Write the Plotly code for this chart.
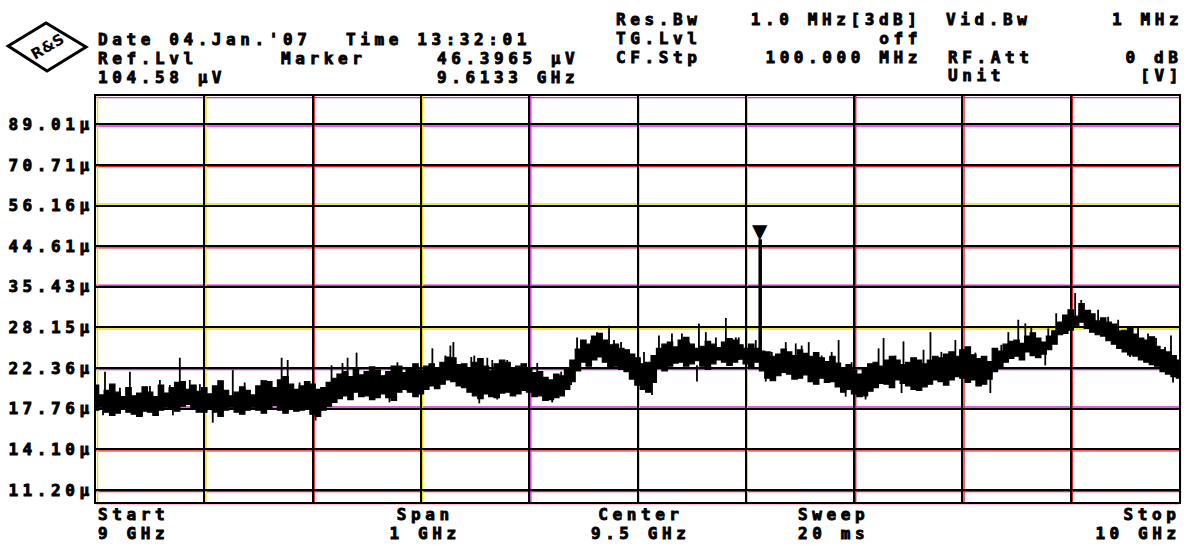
import math
import plotly.graph_objects as go

# ---- sweep settings -------------------------------------------------------
START_GHZ, STOP_GHZ = 9.0, 10.0
REF_LEVEL_UV = 104.58          # top of screen
RANGE_DB = 20.0                # 10 divisions of 2 dB

# display bins every 5 MHz (auto-peak detector: max / min per bin)
N_BINS = 201
bin_ghz = [START_GHZ + (STOP_GHZ - START_GHZ) * i / (N_BINS - 1) for i in range(N_BINS)]

band_hi_uv = [
    20.3, 19.2, 19.7, 20.4, 19.5, 19.0, 20.0, 19.1, 19.4, 20.1,
    19.5, 19.0, 20.3, 19.4, 20.0, 20.6, 20.7, 19.8, 20.3, 19.6,
    20.0, 19.3, 20.2, 20.8, 19.7, 19.1, 19.5, 20.1, 19.7, 19.2,
    20.2, 20.8, 20.7, 20.0, 20.9, 21.3, 20.4, 19.8, 20.2, 20.7,
    20.4, 19.8, 20.0, 20.6, 21.1, 21.6, 21.9, 21.3, 22.4, 21.5,
    21.9, 22.5, 22.1, 21.4, 21.9, 22.6, 22.6, 21.8, 22.4, 22.9,
    22.1, 22.6, 22.9, 22.2, 23.1, 23.8, 23.7, 22.8, 22.9, 22.2,
    23.1, 23.6, 22.6, 22.0, 22.9, 23.4, 23.1, 22.4, 22.6, 22.9,
    22.4, 21.8, 21.9, 21.2, 20.9, 21.6, 21.4, 22.2, 23.4, 24.9,
    26.2, 25.6, 26.8, 27.2, 26.2, 25.5, 25.6, 25.0, 24.8, 24.2,
    23.7, 22.9, 23.1, 24.0, 25.0, 25.6, 25.9, 25.2, 26.2, 26.6,
    25.6, 25.0, 25.3, 26.0, 25.6, 25.1, 25.9, 26.4, 26.2, 25.5,
    25.0, 25.6, 25.0, 24.6, 24.5, 23.9, 24.2, 24.9, 24.5, 24.0,
    24.8, 24.3, 23.9, 24.4, 23.7, 23.2, 23.9, 23.0, 22.4, 22.8,
    22.1, 21.6, 22.4, 22.9, 23.1, 22.6, 23.4, 23.9, 23.4, 22.8,
    23.1, 23.7, 23.4, 22.9, 23.4, 23.9, 23.7, 24.2, 24.5, 23.9,
    24.8, 25.2, 24.1, 23.6, 23.9, 23.2, 25.0, 24.6, 25.6, 26.0,
    26.2, 25.7, 26.8, 27.3, 26.5, 25.9, 26.8, 27.6, 29.0, 30.2,
    31.1, 30.0, 32.2, 31.0, 30.4, 29.2, 29.7, 29.0, 28.7, 27.6,
    27.7, 28.2, 27.1, 26.5, 26.2, 26.7, 25.3, 24.8, 24.5, 24.0,
    23.4,
]
band_lo_uv = [
    17.6, 17.9, 17.4, 17.1, 17.3, 17.7, 17.4, 17.2, 17.0, 17.5,
    17.4, 17.1, 17.6, 17.9, 17.8, 17.5, 18.0, 18.2, 17.8, 17.4,
    17.4, 17.7, 17.4, 17.0, 17.6, 17.9, 17.4, 17.2, 17.6, 17.9,
    17.6, 17.3, 17.8, 18.1, 17.6, 17.3, 17.8, 17.5, 17.6, 17.8,
    17.2, 17.0, 17.6, 18.0, 18.4, 18.8, 19.1, 18.7, 19.5, 19.0,
    19.1, 18.7, 18.9, 19.3, 18.9, 18.6, 19.5, 19.8, 19.5, 19.0,
    19.3, 19.8, 20.2, 19.9, 20.4, 20.9, 20.7, 20.2, 20.0, 19.5,
    19.1, 18.8, 19.3, 19.0, 18.9, 19.4, 19.5, 19.1, 19.3, 19.7,
    19.5, 19.0, 19.1, 18.6, 18.7, 18.9, 19.1, 19.8, 20.7, 22.0,
    23.1, 22.6, 23.4, 23.8, 23.1, 22.5, 22.6, 22.2, 21.9, 21.0,
    20.3, 19.8, 19.5, 20.6, 22.4, 22.0, 22.6, 23.0, 23.1, 22.6,
    22.9, 23.3, 22.6, 22.2, 22.9, 23.4, 23.1, 22.7, 23.1, 23.5,
    22.9, 22.5, 23.1, 22.0, 21.1, 20.8, 21.4, 21.8, 21.6, 21.0,
    21.1, 21.5, 20.7, 20.4, 21.1, 20.6, 20.7, 20.1, 19.5, 19.8,
    19.3, 19.0, 19.1, 19.6, 20.0, 20.5, 20.4, 20.0, 20.9, 20.5,
    20.2, 19.8, 19.7, 20.1, 20.4, 20.9, 20.7, 20.3, 20.9, 21.3,
    21.1, 20.6, 20.9, 20.2, 20.4, 21.0, 21.9, 22.5, 23.1, 23.6,
    23.9, 23.4, 24.5, 24.0, 23.7, 24.2, 24.8, 25.6, 27.0, 27.2,
    27.7, 28.4, 29.0, 28.0, 27.4, 27.0, 26.8, 26.1, 25.6, 25.0,
    24.5, 24.1, 23.9, 23.4, 23.1, 22.8, 22.6, 21.9, 21.6, 21.3,
    21.1,
]

# single-sample needles (peaks and dips) around the noise floor
needle_ghz = [
    9.0083, 9.0313, 9.0590, 9.0774, 9.0866, 9.1263, 9.1714, 9.1770,
    9.2323, 9.2406, 9.2783, 9.3106, 9.3226, 9.3272, 9.3300, 9.3493,
    9.3613, 9.3797, 9.4442, 9.4627, 9.4737, 9.5198, 9.5382, 9.5567,
    9.5816, 9.6369, 9.6581, 9.6857, 9.7272, 9.7456, 9.7705, 9.7806,
    9.7935, 9.8424, 9.8581, 9.9041, 9.9622, 9.9926,
    9.0221, 9.0498, 9.0682, 9.0959, 9.1373, 9.1530, 9.1880, 9.2175,
    9.2276, 9.2525, 9.2664, 9.2866, 9.2968, 9.3465, 9.3659, 9.4074,
    9.4295, 9.4387, 9.4571, 9.4783, 9.4848, 9.4940, 9.5060, 9.5318,
    9.5410, 9.5475, 9.5631, 9.5724, 9.5908, 9.5935, 9.6092, 9.6240,
    9.6461, 9.6516, 9.6700, 9.6793, 9.6977, 9.7226, 9.7382, 9.7530,
    9.7641, 9.7899, 9.8055, 9.8120, 9.8359, 9.8516, 9.8636, 9.8793,
    9.8866, 9.9097, 9.9180, 9.9253, 9.9346, 9.9438, 9.9714, 9.9788,
    9.9871,
    9.0424, 9.1078, 9.2028, 9.3539, 9.3705, 9.4212, 9.5134, 9.5549,
    9.7106, 9.8258, 9.9945, 9.8765, 9.9548, 9.6184, 9.6922, 9.7041,
    9.7438, 9.2553, 9.2710, 9.0065, 9.0710,
]
needle_top_uv = [
    21.9, 21.9, 20.9, 23.7, 20.9, 22.1, 23.7, 23.4,
    23.7, 24.4, 23.1, 25.0, 24.0, 25.4, 25.9, 24.0,
    23.7, 23.4, 26.6, 27.4, 28.4, 26.9, 25.4, 28.8,
    29.7, 25.9, 25.9, 26.2, 26.5, 26.0, 27.4, 24.5,
    26.2, 27.4, 28.8, 34.2, 28.2, 26.9,
    20.0, 20.2, 20.3, 20.4, 20.6, 20.9, 20.6, 22.7,
    23.0, 21.9, 21.5, 22.5, 22.7, 23.8, 23.4, 23.0,
    21.9, 23.4, 26.2, 26.2, 25.9, 24.0, 24.5, 27.2,
    27.2, 25.9, 27.4, 26.6, 26.6, 26.6, 26.2, 24.5,
    25.7, 25.4, 24.0, 24.5, 23.1, 25.0, 24.0, 23.7,
    24.8, 23.4, 25.2, 24.4, 25.5, 29.4, 28.2, 28.0,
    30.5, 32.9, 31.1, 31.1, 29.9, 29.4, 27.2, 26.5,
    25.2,
    18.7, 18.7, 18.1, 20.3, 20.3, 19.7, 20.9, 22.7,
    20.3, 21.5, 22.1, 25.5, 26.2, 22.7, 21.5, 21.5,
    21.5, 20.3, 20.3, 18.7, 18.7,
]
needle_bottom_uv = [
    18.7, 18.7, 18.7, 18.9, 18.9, 18.7, 18.9, 18.9,
    20.3, 20.3, 20.3, 20.9, 21.5, 21.5, 21.5, 20.3,
    20.3, 20.3, 23.4, 24.0, 24.0, 23.4, 23.1, 24.0,
    24.0, 22.1, 22.1, 22.1, 21.5, 21.5, 21.9, 21.9,
    22.7, 24.0, 24.8, 29.4, 25.4, 23.4,
    18.1, 18.1, 18.1, 18.1, 18.1, 18.1, 18.7, 19.2,
    19.2, 19.5, 19.5, 19.7, 19.7, 20.3, 20.3, 20.0,
    19.5, 20.3, 23.4, 23.4, 23.4, 21.5, 20.9, 23.4,
    23.4, 23.4, 23.4, 23.4, 23.4, 23.4, 23.4, 21.9,
    21.9, 21.9, 21.9, 21.9, 20.3, 20.9, 20.9, 20.9,
    20.9, 20.9, 21.5, 21.5, 22.7, 24.8, 24.8, 24.8,
    27.0, 29.4, 28.5, 28.5, 27.0, 27.0, 24.0, 24.0,
    22.7,
    17.0, 16.4, 16.6, 18.3, 18.7, 18.4, 19.2, 20.7,
    18.7, 19.4, 20.6, 22.7, 23.8, 20.7, 19.0, 19.0,
    19.4, 18.7, 18.4, 17.1, 17.1,
]

# marker 1
marker_ghz = 9.6133
marker_uv = 46.3965
marker_floor_uv = 23.1

# graticule labels (level axis)
level_ticks_uv = [89.01, 70.71, 56.16, 44.61, 35.43, 28.15, 22.36, 17.76, 14.10, 11.20]
level_tick_text = ["89.01µ", "70.71µ", "56.16µ", "44.61µ", "35.43µ",
                   "28.15µ", "22.36µ", "17.76µ", "14.10µ", "11.20µ"]
freq_grid_ghz = [9.0, 9.1, 9.2, 9.3, 9.4, 9.5, 9.6, 9.7, 9.8, 9.9, 10.0]

# ---- page geometry (pixels) ----------------------------------------------
W, H = 1193, 545
L, R, T, B = 96, 12, 96, 43
PW, PH = W - L - R, H - T - B
Y_TOP = math.log10(REF_LEVEL_UV)
Y_BOT = Y_TOP - RANGE_DB / 20


def px(x, y):
    """page pixel -> paper coordinates"""
    return (x - L) / PW, (H - B - y) / PH


FONT = "DejaVu Sans Mono"
FONT_SIZE = 16
INK = "black"
RED, MAG, YEL = "#e8202a", "#d82ad8", "#ecdc00"

fig = go.Figure()

# noise floor band: min and max per bin, drawn as steps
fig.add_trace(go.Scatter(x=bin_ghz, y=band_lo_uv, mode="lines", line_shape="hvh",
                         line=dict(color=INK, width=1.2), hoverinfo="skip"))
fig.add_trace(go.Scatter(x=bin_ghz, y=band_hi_uv, mode="lines", line_shape="hvh",
                         fill="tonexty", fillcolor=INK,
                         line=dict(color=INK, width=1.2), hoverinfo="skip"))

# needles
nx, ny = [], []
for f, top, bot in zip(needle_ghz, needle_top_uv, needle_bottom_uv):
    nx += [f, f, None]
    ny += [bot, top, None]
fig.add_trace(go.Scatter(x=nx, y=ny, mode="lines",
                         line=dict(color=INK, width=1.8), hoverinfo="skip"))

# marker line
fig.add_trace(go.Scatter(x=[marker_ghz, marker_ghz], y=[marker_floor_uv, marker_uv],
                         mode="lines", line=dict(color=INK, width=3.5),
                         hoverinfo="skip"))

annotations = []
# marker triangle sitting on the peak
annotations.append(dict(x=marker_ghz, y=math.log10(marker_uv), xref="x", yref="y",
                        text="▼", showarrow=False, xanchor="center", yanchor="bottom",
                        yshift=-6, font=dict(family="DejaVu Sans", size=20, color=INK)))


def label(text, x, y, anchor="left"):
    xp, yp = px(x, y)
    annotations.append(dict(x=xp, y=yp, xref="paper", yref="paper", text=text,
                            showarrow=False, xanchor=anchor, yanchor="middle",
                            align=anchor,
                            font=dict(family=FONT, size=FONT_SIZE, color=INK,
                                      weight="bold")))


# header
label("Date 04.Jan.'07", 96, 39.5)
label("Time 13:32:01", 344, 39.5)
label("Ref.Lvl", 96, 58.5)
label("Marker", 279, 58.5)
label("46.3965 µV", 436, 58.5)
label("104.58 µV", 96, 77.5)
label("9.6133 GHz", 436, 77.5)
label("Res.Bw", 615, 19.5)
label("1.0 MHz[3dB]", 926, 19.5, "right")
label("Vid.Bw", 946, 19.5)
label("1 MHz", 1187, 19.5, "right")
label("TG.Lvl", 615, 38.3)
label("off", 926, 38.3, "right")
label("CF.Stp", 615, 57.1)
label("100.000 MHz", 926, 57.1, "right")
label("RF.Att", 948, 57.1)
label("0 dB", 1187, 57.1, "right")
label("Unit", 948, 75.9)
label("[V]", 1187, 75.9, "right")

# footer
label("Start", 96, 514)
label("9 GHz", 96, 533)
label("Span", 426, 514, "center")
label("1 GHz", 426, 533, "center")
label("Center", 642, 514, "center")
label("9.5 GHz", 642, 533, "center")
label("Sweep", 797, 514)
label("20 ms", 797, 533)
label("Stop", 1185, 514, "right")
label("10 GHz", 1185, 533, "right")

# logo
cx, cy = px(47, 47)
annotations.append(dict(x=cx, y=cy, xref="paper", yref="paper", text="R&S",
                        showarrow=False, xanchor="center", yanchor="middle",
                        font=dict(family="DejaVu Sans", size=15, color=INK, weight="bold"),
                        textangle=-30))
pts = [px(8, 46), px(46, 23), px(86, 47), px(47, 71)]
logo_path = "M " + " L ".join(f"{a:.4f},{b:.4f}" for a, b in pts) + " Z"

shapes = [dict(type="path", path=logo_path, xref="paper", yref="paper",
               line=dict(color=INK, width=3))]

# colour fringes of the printed graticule, hugging the black lines
h_lines = [REF_LEVEL_UV] + level_ticks_uv + [10 ** Y_BOT]
h_fringe = [(MAG, 1), (MAG, 1), (RED, 1), (YEL, -1), (RED, 1), (MAG, -1),
            (YEL, 1), (MAG, 1), (MAG, -1), (RED, 1), (RED, 1), (RED, 1)]
for v, (col, side) in zip(h_lines, h_fringe):
    yp = (math.log10(v) - Y_BOT) / (Y_TOP - Y_BOT) - side * 1.6 / PH
    shapes.append(dict(type="line", xref="paper", yref="paper", x0=0, x1=1,
                       y0=yp, y1=yp, layer="below", line=dict(color=col, width=1.4)))
v_fringe = [YEL, YEL, RED, YEL, MAG, YEL, YEL, RED, RED, RED, YEL]
for g, col in zip(freq_grid_ghz, v_fringe):
    xp = (g - START_GHZ) / (STOP_GHZ - START_GHZ) + 1.6 / PW
    shapes.append(dict(type="line", xref="paper", yref="paper", x0=xp, x1=xp,
                       y0=0, y1=1, layer="below", line=dict(color=col, width=1.4)))

fig.update_layout(
    width=W, height=H,
    margin=dict(l=L, r=R, t=T, b=B, pad=0),
    paper_bgcolor="white", plot_bgcolor="white",
    showlegend=False,
    annotations=annotations,
    shapes=shapes,
    xaxis=dict(range=[START_GHZ, STOP_GHZ], tickvals=freq_grid_ghz,
               showticklabels=False, ticks="", showgrid=True,
               gridcolor=INK, gridwidth=2, zeroline=False,
               showline=True, mirror=True, linecolor=INK, linewidth=2),
    yaxis=dict(type="log", range=[Y_BOT, Y_TOP],
               tickvals=level_ticks_uv, ticktext=level_tick_text,
               ticks="", ticklabelstandoff=-3, showgrid=True,
               gridcolor=INK, gridwidth=2, zeroline=False,
               showline=True, mirror=True, linecolor=INK, linewidth=2,
               tickfont=dict(family=FONT, size=FONT_SIZE, color=INK, weight="bold")),
)

# widen the character pitch of the screen font and thicken its strokes
post = """
var gd = document.getElementById('{plot_id}');
gd.querySelectorAll('.annotation-text, .ytick text').forEach(function (t) {
  var s = t.textContent;
  if (s === '\\u25bc' || s === 'R&S') { return; }
  t.style.letterSpacing = '4.6px';
  t.style.stroke = '#000';
  t.style.strokeWidth = '0.9px';
});
"""

fig.write_html("out.html", post_script=post)
